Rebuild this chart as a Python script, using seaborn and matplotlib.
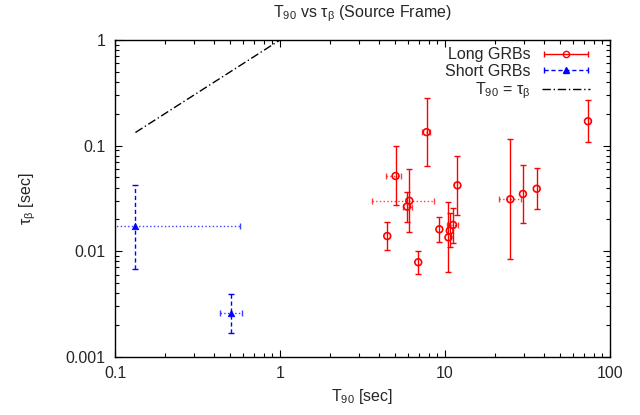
import numpy as np
import pandas as pd
import matplotlib
matplotlib.use("Agg")
import matplotlib.pyplot as plt
from matplotlib.ticker import FuncFormatter, LogLocator
from matplotlib.legend_handler import HandlerErrorbar
from matplotlib.lines import Line2D
import seaborn as sns

# ---- data ----
long_t90 = [4.47, 6.89, 5.02, 7.74, 6.08, 5.89, 9.25, 10.5, 10.7, 11.2, 11.9, 24.9, 29.7, 36.0, 73.6]
long_t90_lo = [4.47, 6.89, 4.39, 7.30, 3.62, 5.60, 9.25, 10.5, 10.7, 10.3, 11.9, 21.3, 29.7, 36.0, 73.6]
long_t90_hi = [4.47, 6.89, 5.39, 8.10, 8.61, 6.30, 9.25, 10.5, 10.7, 12.0, 11.9, 28.8, 29.7, 36.0, 73.6]
long_tau = [0.0139, 0.00785, 0.0515, 0.134, 0.030, 0.0264, 0.0161, 0.0135, 0.0156, 0.0177, 0.042, 0.031, 0.0348, 0.039, 0.17]
long_tau_lo = [0.0103, 0.0061, 0.0272, 0.0637, 0.0151, 0.019, 0.0123, 0.0063, 0.011, 0.0119, 0.022, 0.0084, 0.0184, 0.0249, 0.108]
long_tau_hi = [0.0188, 0.0100, 0.098, 0.28, 0.0596, 0.036, 0.021, 0.0294, 0.023, 0.0258, 0.080, 0.115, 0.066, 0.0618, 0.268]

short_t90 = [0.133, 0.505]
short_t90_lo = [0.05, 0.433]
short_t90_hi = [0.573, 0.586]
short_tau = [0.0173, 0.00258]
short_tau_lo = [0.0068, 0.00169]
short_tau_hi = [0.0426, 0.0039]

line_x = [0.133, 1.0]  # T90 = tau_beta

sns.set_style("ticks")
plt.rcParams['font.family'] = ['Liberation Sans', 'DejaVu Sans']
plt.rcParams['mathtext.fontset'] = 'custom'
plt.rcParams['mathtext.rm'] = 'Liberation Sans'
plt.rcParams['mathtext.it'] = 'Liberation Sans'
plt.rcParams['mathtext.default'] = 'regular'

RED = '#ff0000'
BLUE = '#0000ff'
DASHDOT = (6, 2, 1, 2)

fig = plt.figure(figsize=(6.4, 4.15), dpi=100)
ax = fig.add_axes([0.1797, 0.1405, 0.7733, 0.7631])
ax.set_xscale('log')
ax.set_yscale('log')

lt = np.array(long_t90); ly = np.array(long_tau)
llo = np.array(long_t90_lo); lhi = np.array(long_t90_hi)
st = np.array(short_t90); sy = np.array(short_tau)

# long GRBs: dotted horizontal bars (only where there is one), solid vertical bars
m = lhi > llo
eh = ax.errorbar(lt[m], ly[m], xerr=[lt[m] - llo[m], lhi[m] - lt[m]],
                 fmt='none', ecolor=RED, elinewidth=1, capsize=2.2, alpha=0.75)
eh[2][0].set_linestyle(':')
ax.errorbar(lt, ly, yerr=[ly - np.array(long_tau_lo), np.array(long_tau_hi) - ly],
            fmt='none', ecolor=RED, elinewidth=1, capsize=2.5)

# short GRBs: dotted horizontal, dashed vertical
sh = ax.errorbar(st, sy, xerr=[st - np.array(short_t90_lo), np.array(short_t90_hi) - st],
                 fmt='none', ecolor=BLUE, elinewidth=1, capsize=2.2, alpha=0.75)
sh[2][0].set_linestyle(':')
sv = ax.errorbar(st, sy, yerr=[sy - np.array(short_tau_lo), np.array(short_tau_hi) - sy],
                 fmt='none', ecolor=BLUE, elinewidth=1, capsize=2.5)
sv[2][0].set_linestyle((0, (3, 2)))

df_long = pd.DataFrame({'t90': long_t90, 'tau': long_tau})
df_short = pd.DataFrame({'t90': short_t90, 'tau': short_tau})
sns.scatterplot(data=df_long, x='t90', y='tau', ax=ax, marker='o', s=24,
                facecolor='none', edgecolor=RED, linewidth=1.2, zorder=5)
sns.scatterplot(data=df_short, x='t90', y='tau', ax=ax, marker='^', s=22,
                color=BLUE, edgecolor=BLUE, linewidth=0.5, zorder=5)

ax.plot(line_x, line_x, color='black', lw=1, dashes=DASHDOT)

ax.set_xlim(0.1, 100)
ax.set_ylim(0.001, 1)
fmt = FuncFormatter(lambda v, p: '%g' % v)
ax.xaxis.set_major_formatter(fmt)
ax.yaxis.set_major_formatter(fmt)
for a in (ax.xaxis, ax.yaxis):
    a.set_minor_locator(LogLocator(subs=np.arange(2, 10)))
    a.set_minor_formatter(FuncFormatter(lambda v, p: ''))
ax.tick_params(which='both', direction='in', top=True, right=True, labelsize=11.5, color='black')
ax.tick_params(which='major', length=5, width=0.8, pad=7)
ax.tick_params(which='minor', length=3, width=0.8)
for s in ax.spines.values():
    s.set_linewidth(1)
    s.set_color('black')

ax.set_xlabel('T$_{90}$ [sec]', fontsize=11.5)
ax.set_ylabel('τ$_{β}$ [sec]', fontsize=11.5, labelpad=20)
ax.set_title('T$_{90}$ vs τ$_{β}$ (Source Frame)', fontsize=11.5, pad=16)

# legend handles in gnuplot style
hl = ax.errorbar([np.nan], [np.nan], xerr=[[1], [1]], fmt='o', color=RED, mfc='none',
                 mec=RED, ms=4.5, capsize=2.5, elinewidth=1)
hs = ax.errorbar([np.nan], [np.nan], xerr=[[1], [1]], fmt='^', color=BLUE,
                 ms=4.5, capsize=2.5, elinewidth=1)
hs[2][0].set_linestyle((0, (3, 2)))
hd = Line2D([], [], color='black', lw=1, dashes=DASHDOT)
ax.legend([hl, hs, hd], ['Long GRBs', 'Short GRBs', 'T$_{90}$ = τ$_{β}$'],
          loc='upper right', bbox_to_anchor=(0.982, 1.012), frameon=False,
          markerfirst=False, fontsize=11.5,
          handlelength=3.0, handletextpad=0.7, labelspacing=0.1,
          borderaxespad=0.3, handler_map={type(hl): HandlerErrorbar(xerr_size=1.4)})

fig.savefig('out.png', dpi=100)
